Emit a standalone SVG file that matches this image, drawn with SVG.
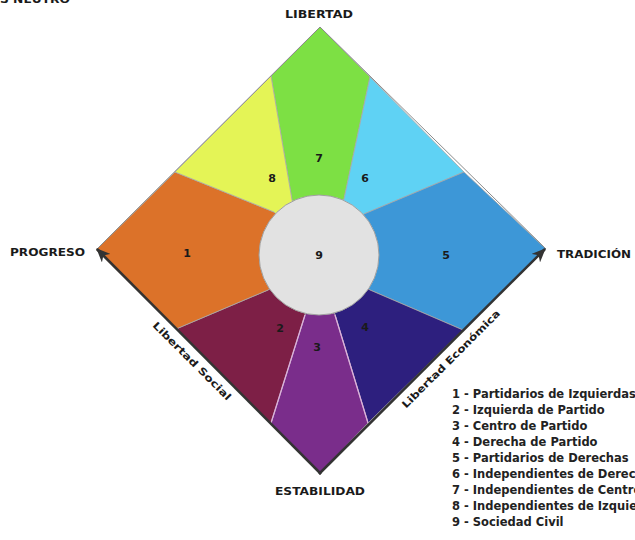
<svg xmlns="http://www.w3.org/2000/svg" width="635" height="540" viewBox="0 0 635 540">
<defs>
<style>
.t{font-family:"DejaVu Sans","Liberation Sans",Arial,sans-serif;font-weight:bold;fill:#1a1a1a}
.ax{font-size:11px}
.num{font-size:11px;text-anchor:middle}
.lg{font-size:11.5px;fill:#222}
.rot{font-size:10px}
.sec{stroke:#a8a8a8;stroke-width:0.8;stroke-linejoin:round}
</style>
<marker id="ah" markerUnits="userSpaceOnUse" markerWidth="14" markerHeight="12" viewBox="0 0 14 12" refX="13" refY="6" orient="auto">
<path d="M0,0 L14,6 L0,12 L4,6 z" fill="#333"/>
</marker>
</defs>
<rect width="635" height="540" fill="#fff"/>
<text class="t ax" x="0" y="3" textLength="70" lengthAdjust="spacingAndGlyphs">S NEUTRO</text>

<g id="sector-7"><polygon class="sec" fill="#7de044" points="271,76 320,27 370,77 344,199 319,255 292,200"/><text class="t num" x="319" y="162">7</text></g>
<g id="sector-6"><polygon class="sec" fill="#5fd2f4" points="370,77 464,172 364,214 319,255 344,199"/><text class="t num" x="365" y="182">6</text></g>
<g id="sector-5"><polygon class="sec" fill="#3d97d7" points="464,172 546,249 463,330 370,290 319,255 364,214"/><text class="t num" x="446" y="259">5</text></g>
<g id="sector-4"><polygon class="sec" fill="#2d1f7e" points="463,330 368,423 335,315 319,255 370,290"/><text class="t num" x="365" y="331">4</text></g>
<g id="sector-3"><polygon class="sec" fill="#7a2d8b" points="368,423 320,473 271,423 305,315 319,255 335,315"/><text class="t num" x="317" y="351">3</text></g>
<g id="sector-2"><polygon class="sec" fill="#7d1f46" points="271,423 176,329 268,290 319,255 305,315"/><text class="t num" x="280" y="332">2</text></g>
<g id="sector-1"><polygon class="sec" fill="#dc7229" points="176,329 96,250 175,172 274,212 319,255 268,290"/><text class="t num" x="187" y="257">1</text></g>
<g id="sector-8"><polygon class="sec" fill="#e4f456" points="175,172 271,76 292,200 319,255 274,212"/><text class="t num" x="272" y="182">8</text></g>

<g id="connectors">
<path d="M96,250 L320,27 L546,249" fill="none" stroke="#8a8a8a" stroke-width="1"/>
<path d="M271,423 L305,315 M368,423 L335,315" stroke="#dcb0dc" stroke-width="1.3" fill="none"/>
<path d="M321,474 L97,249" fill="none" stroke="#333" stroke-width="2.5" marker-end="url(#ah)"/>
<path d="M319,474 L545,249" fill="none" stroke="#333" stroke-width="2.5" marker-end="url(#ah)"/>
</g>

<g id="sector-9"><circle cx="319" cy="255" r="60" fill="#e2e2e2" stroke="#a0a0a0" stroke-width="1"/><text class="t num" x="319" y="259">9</text></g>

<g id="labels">
<text class="t ax" x="285" y="18" textLength="68" lengthAdjust="spacingAndGlyphs">LIBERTAD</text>
<text class="t ax" x="10" y="256" textLength="75" lengthAdjust="spacingAndGlyphs">PROGRESO</text>
<text class="t ax" x="557" y="258" textLength="74" lengthAdjust="spacingAndGlyphs">TRADICIÓN</text>
<text class="t ax" x="275" y="495" textLength="90" lengthAdjust="spacingAndGlyphs">ESTABILIDAD</text>
<text class="t rot" transform="translate(192,361) rotate(45)" x="-53" y="3.5" textLength="106" lengthAdjust="spacingAndGlyphs">Libertad Social</text>
<text class="t rot" transform="translate(451,359) rotate(-45)" x="-67" y="3.5" textLength="134" lengthAdjust="spacingAndGlyphs">Libertad Económica</text>
</g>

<g id="legend">
<text class="t lg" x="452" y="398">1 - Partidarios de Izquierdas</text>
<text class="t lg" x="452" y="414">2 - Izquierda de Partido</text>
<text class="t lg" x="452" y="430">3 - Centro de Partido</text>
<text class="t lg" x="452" y="446">4 - Derecha de Partido</text>
<text class="t lg" x="452" y="462">5 - Partidarios de Derechas</text>
<text class="t lg" x="452" y="478">6 - Independientes de Derechas</text>
<text class="t lg" x="452" y="494">7 - Independientes de Centro</text>
<text class="t lg" x="452" y="510">8 - Independientes de Izquierdas</text>
<text class="t lg" x="452" y="526">9 - Sociedad Civil</text>
</g>
</svg>
